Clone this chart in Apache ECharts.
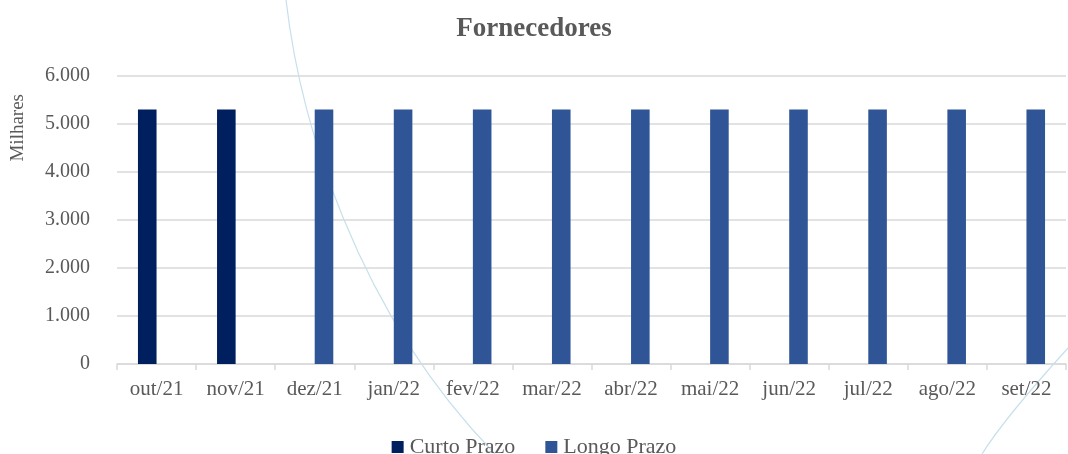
<!DOCTYPE html>
<html>
<head>
<meta charset="utf-8">
<script src="https://cdn.jsdelivr.net/npm/echarts@6/dist/echarts.min.js"></script>
<style>
  html, body { margin: 0; padding: 0; background: #fff; }
  #chart { width: 1068px; height: 454px; }
</style>
</head>
<body>
<div id="chart"></div>
<script>
// dados
var meses = ['out/21', 'nov/21', 'dez/21', 'jan/22', 'fev/22', 'mar/22',
             'abr/22', 'mai/22', 'jun/22', 'jul/22', 'ago/22', 'set/22'];
var curtoPrazo = [5300, 5300, 0, 0, 0, 0, 0, 0, 0, 0, 0, 0];
var longoPrazo = [0, 0, 5300, 5300, 5300, 5300, 5300, 5300, 5300, 5300, 5300, 5300];
var yTicks = { min: 0, max: 6000, interval: 1000 };

var fonte = '"Liberation Serif", "DejaVu Serif", serif';
var cinza = '#595959';

var chart = echarts.init(document.getElementById('chart'));

var option = {
    backgroundColor: '#fff',
    animation: false,
    title: {
        text: 'Fornecedores',
        left: 'center',
        top: 11,
        textStyle: { fontFamily: fonte, fontSize: 27, fontWeight: 'bold', color: cinza }
    },
    legend: {
        top: 431,
        left: 'center',
        itemWidth: 12,
        itemHeight: 12,
        itemGap: 30,
        icon: 'rect',
        textStyle: { fontFamily: fonte, fontSize: 22, color: cinza, padding: [0, 0, 0, 1] },
        data: ['Curto Prazo', 'Longo Prazo']
    },
    grid: { left: 117, right: 2, top: 76, bottom: 90 },
    xAxis: {
        type: 'category',
        data: meses,
        axisLine: { lineStyle: { color: '#d9d9d9', width: 1.5 } },
        axisTick: { show: true, length: 6, lineStyle: { color: '#d9d9d9', width: 1.5 } },
        axisLabel: { fontFamily: fonte, fontSize: 21, color: cinza, margin: 15, interval: 0 }
    },
    yAxis: {
        type: 'value',
        min: yTicks.min,
        max: yTicks.max,
        interval: yTicks.interval,
        axisLine: { show: false },
        axisTick: { show: false },
        splitLine: { lineStyle: { color: '#d9d9d9', width: 1.5 } },
        axisLabel: {
            fontFamily: fonte, fontSize: 20, color: cinza, margin: 27,
            formatter: function (v) {
                return v.toString().replace(/\B(?=(\d{3})+(?!\d))/g, '.');
            }
        }
    },
    graphic: [
        // título do eixo
        {
            type: 'text',
            left: 9,
            top: 94,
            rotation: Math.PI / 2,
            style: { text: 'Milhares', fontFamily: fonte, fontSize: 19, fill: cinza }
        },
        // linhas decorativas do fundo
        {
            type: 'bezierCurve',
            z: -1,
            silent: true,
            shape: { x1: 286, y1: 0, cpx1: 300, cpy1: 120, cpx2: 355, cpy2: 310, x2: 495, y2: 454 },
            style: { stroke: '#c6e0ec', lineWidth: 1.2, fill: null }
        },
        {
            type: 'bezierCurve',
            z: -1,
            silent: true,
            shape: { x1: 1068, y1: 348, cpx1: 1030, cpy1: 390, cpx2: 1000, cpy2: 425, x2: 982, y2: 454 },
            style: { stroke: '#c6e0ec', lineWidth: 1.2, fill: null }
        }
    ],
    series: [
        {
            name: 'Curto Prazo',
            type: 'bar',
            data: curtoPrazo,
            barGap: '0%',
            barCategoryGap: '53%',
            itemStyle: { color: '#001f5f' }
        },
        {
            name: 'Longo Prazo',
            type: 'bar',
            data: longoPrazo,
            itemStyle: { color: '#2f5597' }
        }
    ]
};

chart.setOption(option);
</script>
</body>
</html>
